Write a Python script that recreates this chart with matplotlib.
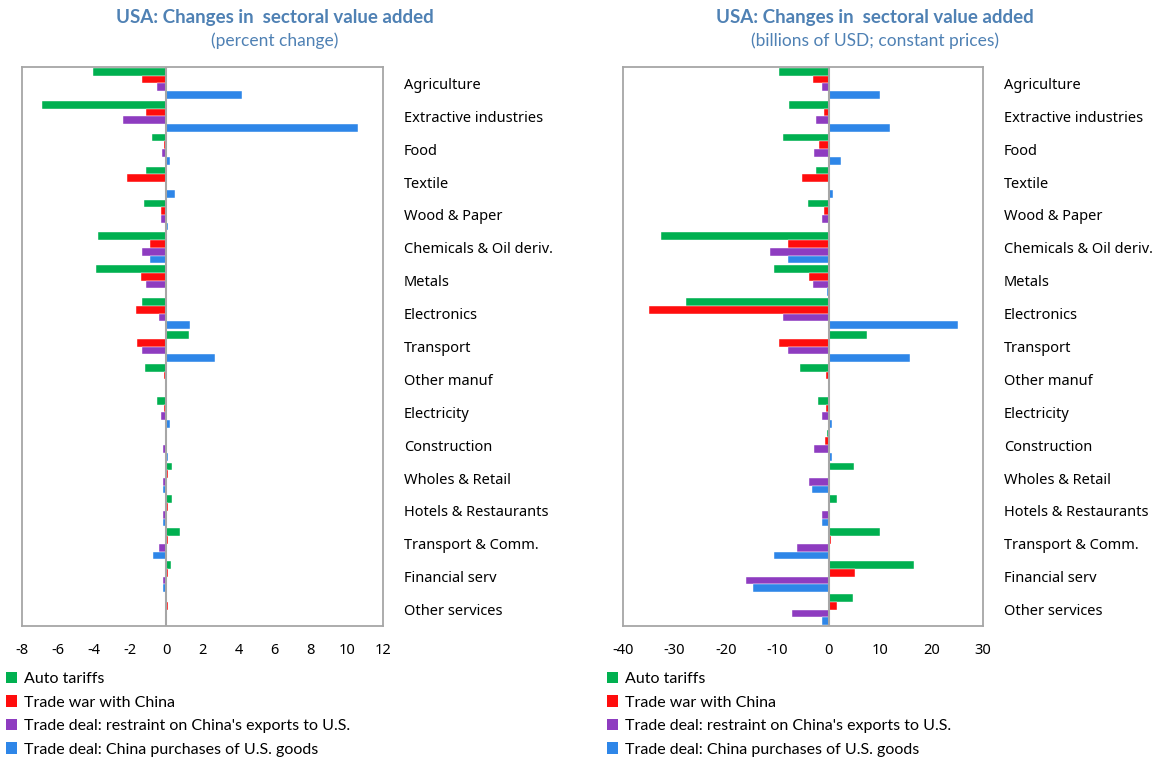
import numpy as np
import matplotlib
matplotlib.use("Agg")
import matplotlib.pyplot as plt
from matplotlib.patches import Patch

plt.rcParams['font.family'] = ['Noto Sans', 'DejaVu Sans']

sectors = ["Agriculture", "Extractive industries", "Food", "Textile", "Wood & Paper",
           "Chemicals & Oil deriv.", "Metals", "Electronics", "Transport", "Other manuf",
           "Electricity", "Construction", "Wholes & Retail", "Hotels & Restaurants",
           "Transport & Comm.", "Financial serv", "Other services"]

scenarios = ["Auto tariffs", "Trade war with China",
             "Trade deal: restraint on China's exports to U.S.",
             "Trade deal: China purchases of U.S. goods"]
colors = ["#00b050", "#ff0d0d", "#8e3cc0", "#2e86e8"]

# percent change
pct_auto = [-4.07, -6.87, -0.81, -1.11, -1.26, -3.79, -3.92, -1.33, 1.26, -1.18,
            -0.54, 0.02, 0.31, 0.31, 0.74, 0.24, 0.06]
pct_war = [-1.33, -1.11, -0.13, -2.2, -0.31, -0.89, -1.4, -1.7, -1.63, -0.13,
           -0.13, -0.02, 0.1, 0.1, 0.1, 0.1, 0.08]
pct_restraint = [-0.54, -2.4, -0.24, -0.02, -0.31, -1.33, -1.11, -0.41, -1.33, -0.02,
                 -0.31, -0.18, -0.18, -0.18, -0.39, -0.18, -0.1]
pct_purchase = [4.19, 10.62, 0.22, 0.46, 0.09, -0.89, -0.09, 1.33, 2.68, 0.0,
                0.22, 0.1, -0.18, -0.18, -0.76, -0.18, 0.0]

# billions of USD
usd_auto = [-9.6, -7.8, -8.9, -2.5, -4.1, -32.6, -10.6, -27.8, 7.45, -5.6,
            -2.1, -0.3, 4.9, 1.6, 9.9, 16.5, 4.7]
usd_war = [-3.05, -1.0, -1.8, -5.1, -1.0, -7.85, -3.8, -34.9, -9.6, -0.5,
           -0.5, -0.8, 0.2, 0.2, 0.5, 5.2, 1.6]
usd_restraint = [-1.3, -2.5, -2.8, -0.2, -1.3, -11.4, -3.05, -8.9, -7.85, -0.1,
                 -1.3, -2.8, -3.8, -1.3, -6.1, -16.1, -7.1]
usd_purchase = [9.98, 12.0, 2.4, 0.9, 0.3, -7.85, -0.3, 25.1, 15.75, 0.1,
                0.7, 0.7, -3.3, -1.3, -10.6, -14.7, -1.3]

title_color = "#4f81b4"
grey = "#a6a6a6"

fig = plt.figure(figsize=(11.65, 7.61), dpi=100)
ax1 = fig.add_axes([22 / 1165, 1 - 626 / 761, 361 / 1165, 559 / 761])
ax2 = fig.add_axes([623 / 1165, 1 - 626 / 761, 360 / 1165, 559 / 761])


def draw(ax, series, xlim, xticks):
    y = np.arange(len(sectors))
    h = 0.235
    offsets = [-1.5 * h, -0.5 * h, 0.5 * h, 1.5 * h]
    for vals, off, c in zip(series, offsets, colors):
        ax.barh(y + off, vals, height=h, color=c, edgecolor="white", linewidth=0.3)
    ax.axvline(0, color=grey, linewidth=1.5, zorder=3)
    ax.set_xlim(*xlim)
    ax.set_ylim(len(sectors) - 0.5, -0.5)
    ax.set_xticks(xticks)
    ax.set_xticklabels([str(t) for t in xticks], fontsize=10.5)
    ax.tick_params(axis="x", length=0, pad=12)
    ax.yaxis.tick_right()
    ax.set_yticks(y)
    ax.set_yticklabels(sectors, fontsize=10.5, ha="left")
    ax.tick_params(axis="y", length=0, pad=15)
    for s in ax.spines.values():
        s.set_color(grey)
        s.set_linewidth(1.3)


draw(ax1, [pct_auto, pct_war, pct_restraint, pct_purchase], (-8, 12), list(range(-8, 13, 2)))
draw(ax2, [usd_auto, usd_war, usd_restraint, usd_purchase], (-40, 30), list(range(-40, 31, 10)))

for cx, sub in [(275 / 1165, "(percent change)"),
                (875 / 1165, "(billions of USD; constant prices)")]:
    fig.text(cx, 1 - 17 / 761, "USA: Changes in  sectoral value added", ha="center", va="center",
             fontsize=13.5, fontweight="bold", color=title_color, family=["Lato", "DejaVu Sans"])
    fig.text(cx, 1 - 41 / 761, sub, ha="center", va="center", fontsize=12.5, color=title_color,
             family=["Lato", "DejaVu Sans"])

handles = [Patch(facecolor=c, edgecolor="none") for c in colors]
for x0 in [6 / 1165, 607 / 1165]:
    fig.legend(handles, scenarios, loc="upper left", bbox_to_anchor=(x0, 1 - 672 / 761),
               frameon=False, prop={"family": ["Lato", "DejaVu Sans"], "size": 11.5},
               handlelength=0.7, handleheight=0.7, handletextpad=0.45,
               labelspacing=0.58, borderaxespad=0, borderpad=0)

fig.savefig("out.png", dpi=100)
